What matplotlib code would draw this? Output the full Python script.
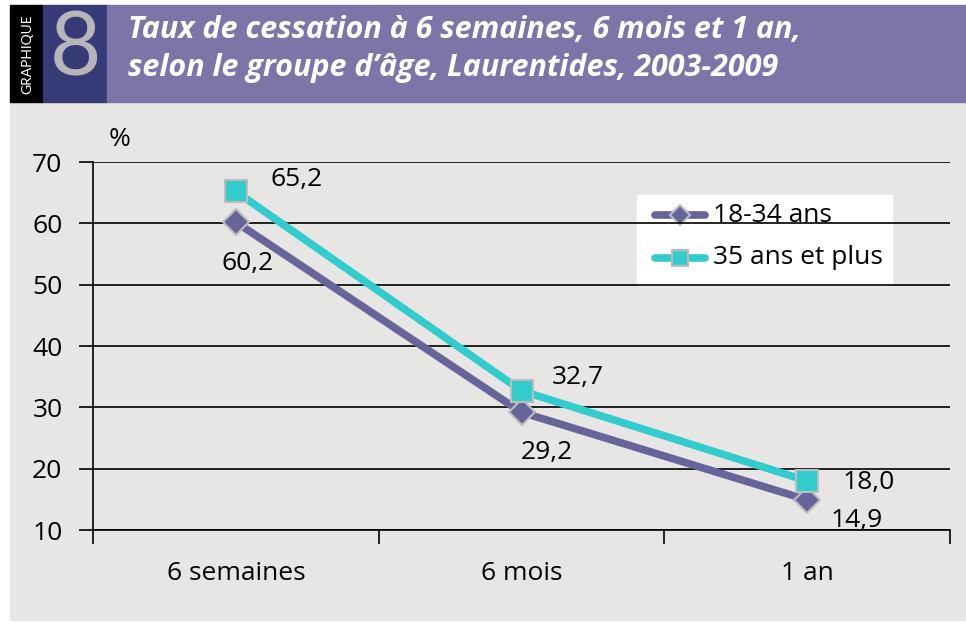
import matplotlib
matplotlib.use("Agg")
import matplotlib.pyplot as plt
from matplotlib.patches import Rectangle
from matplotlib.lines import Line2D

categories = ["6 semaines", "6 mois", "1 an"]
serie_jeunes = [60.2, 29.2, 14.9]
serie_ages = [65.2, 32.7, 18.0]
labels_jeunes = ["60,2", "29,2", "14,9"]
labels_ages = ["65,2", "32,7", "18,0"]
legend_names = ["18-34 ans", "35 ans et plus"]
yticks = [10, 20, 30, 40, 50, 60, 70]

FONT = ["Open Sans", "DejaVu Sans"]
plt.rcParams["font.family"] = FONT
FS = 19

W, H = 966, 626
fig = plt.figure(figsize=(W / 100, H / 100), dpi=100)
fig.patch.set_facecolor("white")

def px(x0, y0, w, h):
    return (x0 / W, 1 - (y0 + h) / H, w / W, h / H)

purple = "#67649a"
cyan = "#33cccc"
edge = "#bdbdbd"

# background panels
bg = fig.add_axes([0, 0, 1, 1])
bg.set_xlim(0, W)
bg.set_ylim(H, 0)
bg.axis("off")
bg.add_patch(Rectangle((10, 102), W - 10, 518, color="#e8e6e5", zorder=0))
bg.add_patch(Rectangle((10, 5), 33, 97, color="#000000", zorder=1))
bg.add_patch(Rectangle((43, 5), 64, 97, color="#363b78", zorder=1))
bg.add_patch(Rectangle((107, 5), W - 107, 97, color="#7d74a8", zorder=1))
bg.text(27, 54, "GRAPHIQUE", color="white", fontsize=10, rotation=90,
        ha="center", va="center", zorder=2, family=["Lato", "DejaVu Sans"])
bg.text(76, 51, "8", color="#b6b6ba", fontsize=64, ha="center", va="center",
        zorder=2, family=["Lato", "DejaVu Sans"])
bg.text(128, 38, "Taux de cessation à 6 semaines, 6 mois et 1 an,",
        color="white", fontsize=22, fontweight="bold", fontstyle="italic",
        ha="left", va="baseline", zorder=2)
bg.text(128, 76, "selon le groupe d\u2019âge, Laurentides, 2003-2009",
        color="white", fontsize=22, fontweight="bold", fontstyle="italic",
        ha="left", va="baseline", zorder=2)
bg.text(120, 140, "%", fontsize=FS, ha="center", va="center", zorder=2)

ax = fig.add_axes(px(93, 162, 857, 368))
ax.set_facecolor("none")
x = list(range(len(categories)))
ax.plot(x, serie_jeunes, color=purple, lw=5.5, marker="D", markersize=13,
        markerfacecolor=purple, markeredgecolor=edge, markeredgewidth=1.5,
        label=legend_names[0], zorder=3, solid_capstyle="round")
ax.plot(x, serie_ages, color=cyan, lw=5.5, marker="s", markersize=16.5,
        markerfacecolor=cyan, markeredgecolor=edge, markeredgewidth=1.5,
        label=legend_names[1], zorder=4, solid_capstyle="round")

ax.set_xlim(-0.5, len(categories) - 0.5)
ax.set_ylim(10, 70)
ax.set_yticks(yticks)
ax.set_yticklabels([str(v) for v in yticks], fontsize=FS)
ax.yaxis.grid(True, color="black", lw=1.2)
ax.set_axisbelow(True)
ax.tick_params(axis="y", length=10, width=1.2, pad=12)
ax.set_xticks(x)
ax.set_xticklabels(categories, fontsize=FS)
ax.tick_params(axis="x", which="major", length=0, pad=22)
ax.set_xticks([i - 0.5 for i in range(len(categories) + 1)], minor=True)
ax.tick_params(axis="x", which="minor", length=10, width=1.2, direction="out")
for s in ["top", "right"]:
    ax.spines[s].set_visible(False)
for s in ["left", "bottom"]:
    ax.spines[s].set_linewidth(1.2)

# data labels
off_ages = [(0.214, 1.9), (0.197, 2.2), (0.214, -0.2)]
off_jeunes = [(0.042, -6.7), (0.09, -6.5), (0.175, -3.3)]
for i in x:
    ax.text(i + off_ages[i][0], serie_ages[i] + off_ages[i][1], labels_ages[i],
            fontsize=FS, ha="center", va="center", zorder=5)
    ax.text(i + off_jeunes[i][0], serie_jeunes[i] + off_jeunes[i][1], labels_jeunes[i],
            fontsize=FS, ha="center", va="center", zorder=5)

# legend (drawn in pixel space)
bg.add_patch(Rectangle((637, 195), 255, 90, color="white", zorder=3))
leg_styles = [(purple, "D", 10), (cyan, "s", 12)]
for k, (name, (col, mk, ms)) in enumerate(zip(legend_names, leg_styles)):
    yy = 215 + k * 43
    bg.add_line(Line2D([655, 705], [yy, yy], color=col, lw=5.5,
                       solid_capstyle="round", zorder=4))
    bg.add_line(Line2D([680], [yy], marker=mk, markersize=ms, markerfacecolor=col,
                       markeredgecolor=edge, markeredgewidth=1.5, zorder=5))
    bg.text(713, yy, name, fontsize=FS, ha="left", va="center", zorder=5)

fig.savefig("out.png", dpi=100)
